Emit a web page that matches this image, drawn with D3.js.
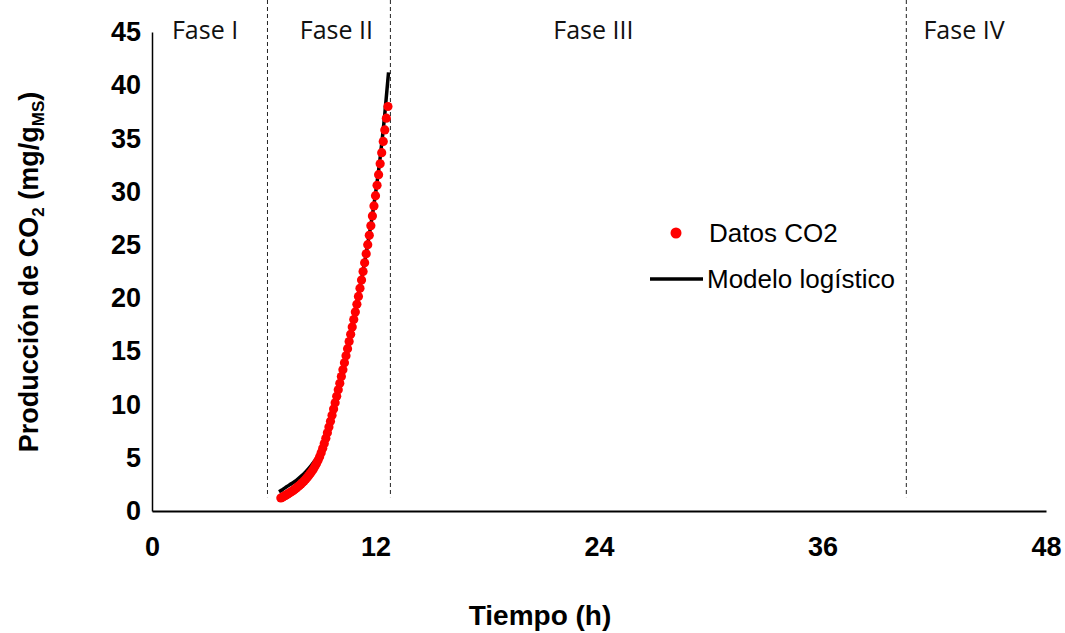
<!DOCTYPE html>
<html>
<head>
<meta charset="utf-8">
<script src="https://cdn.jsdelivr.net/npm/d3@7"></script>
<style>
  body { margin: 0; background: #fff; }
  svg { display: block; }
</style>
</head>
<body>
<div id="chart"></div>
<script>
// ===== data =====
// measured CO2, every 5 min (time in minutes)
var dataMin = [415,420,425,430,435,440,445,450,455,460,465,470,475,480,485,490,495,500,505,510,
    515,520,525,530,535,540,545,550,555,560,565,570,575,580,585,590,595,600,605,610,
    615,620,625,630,635,640,645,650,655,660,665,670,675,680,685,690,695,700,705,710,
    715,720,725,730,735,740,745,750,755,760];
var dataCO2 = [1.22,1.30,1.38,1.46,1.55,1.64,1.73,1.83,1.93,2.04,2.15,2.27,2.40,2.53,2.67,2.82,2.98,3.15,3.33,3.52,
    3.73,3.95,4.20,4.47,4.77,5.10,5.48,5.90,6.35,6.84,7.35,7.88,8.43,9.00,9.58,10.17,10.77,11.38,12.00,12.63,
    13.27,13.92,14.58,15.25,15.92,16.60,17.29,17.99,18.70,19.42,20.16,20.92,21.70,22.50,23.32,24.16,25.02,25.90,26.80,27.72,
    28.66,29.62,30.60,31.60,32.62,33.66,34.72,35.80,36.90,38.00];

// logistic model curve
var modelMin = [409,420,435,450,465,480,495,510,525,540,555,570,585,600,615,630,645,660,675,690,705,720,735,750,762];
var modelCO2 = [1.81,2.00,2.30,2.58,2.88,3.25,3.68,4.18,4.75,5.40,6.30,7.60,9.20,11.00,12.95,15.00,17.15,19.40,21.75,24.20,26.85,29.80,33.20,37.30,41.20];

// phase boundaries (h) and labels
var phaseBounds = [6.2, 12.8, 40.5];
var phaseNames = ["Fase I", "Fase II", "Fase III", "Fase IV"];
var phaseCenters = [2.85, 9.9, 23.7, 43.6];

var xTicks = [0, 12, 24, 36, 48];
var yTicks = [0, 5, 10, 15, 20, 25, 30, 35, 40, 45];

var W = 1065, H = 633;
var svg = d3.select("#chart")
    .append("svg")
    .attr("width", W)
    .attr("height", H)

var x = d3.scaleLinear().domain([0, 48]).range([152, 1046])
var y = d3.scaleLinear().domain([0, 45]).range([511, 32])

var sans = "Liberation Sans, Arial, sans-serif"

// dashed phase lines
svg.selectAll(".phase")
    .data(phaseBounds)
    .enter().append("line")
    .attr("x1", function(d){return x(d)})
    .attr("x2", function(d){return x(d)})
    .attr("y1", 0)
    .attr("y2", y(1.3))
    .attr("stroke", "#222")
    .attr("stroke-width", 1)
    .attr("stroke-dasharray", "4,3")

svg.selectAll(".phaseLabel")
    .data(phaseNames)
    .enter().append("text")
    .text(function(d){return d})
    .attr("x", function(d,i){return x(phaseCenters[i])})
    .attr("y", 39)
    .attr("text-anchor", "middle")
    .attr("font-family", "Open Sans, sans-serif")
    .attr("font-size", "25px")
    .attr("fill", "#111")

// axes
var xAxis = svg.append("g")
    .attr("transform", "translate(0," + y(0) + ")")
    .call(d3.axisBottom(x).tickValues(xTicks).tickSize(0).tickPadding(26))
xAxis.select(".domain").attr("stroke", "#000").attr("stroke-width", 2)
xAxis.selectAll("text")
    .attr("font-family", sans).attr("font-size", "27px").attr("font-weight", "bold").attr("fill", "#000")

var yAxis = svg.append("g")
    .attr("transform", "translate(" + x(0) + ",0)")
    .call(d3.axisLeft(y).tickValues(yTicks).tickSize(0).tickPadding(11))
yAxis.select(".domain").attr("stroke", "#000").attr("stroke-width", 1.5)
yAxis.selectAll("text")
    .attr("font-family", sans).attr("font-size", "27px").attr("font-weight", "bold").attr("fill", "#000")

// axis titles
svg.append("text")
    .text("Tiempo (h)")
    .attr("x", 540)
    .attr("y", 625)
    .attr("text-anchor", "middle")
    .attr("font-family", sans)
    .attr("font-size", "28px")
    .attr("font-weight", "bold")

var yt = svg.append("text")
    .attr("transform", "translate(38,272) rotate(-90)")
    .attr("text-anchor", "middle")
    .attr("font-family", sans)
    .attr("font-size", "27px")
    .attr("font-weight", "bold")
yt.append("tspan").text("Producción de CO")
yt.append("tspan").text("2").attr("font-size", "17px").attr("dy", 6)
yt.append("tspan").text(" (mg/g").attr("dy", -6)
yt.append("tspan").text("MS").attr("font-size", "17px").attr("dy", 6)
yt.append("tspan").text(")").attr("dy", -6)

// model line
var line = d3.line()
    .x(function(d,i){return x(modelMin[i] / 60)})
    .y(function(d){return y(d)})
    .curve(d3.curveMonotoneX)

svg.append("path")
    .datum(modelCO2)
    .attr("d", line)
    .attr("fill", "none")
    .attr("stroke", "#000")
    .attr("stroke-width", 3.5)

// data points
svg.selectAll(".dot")
    .data(dataCO2)
    .enter().append("circle")
    .attr("cx", function(d,i){return x(dataMin[i] / 60)})
    .attr("cy", function(d){return y(d)})
    .attr("r", 4.6)
    .attr("fill", "#ff0000")

// legend
svg.append("circle")
    .attr("cx", 676).attr("cy", 233).attr("r", 5.5).attr("fill", "#ff0000")
svg.append("text")
    .text("Datos CO2")
    .attr("x", 709).attr("y", 242)
    .attr("font-family", sans).attr("font-size", "26px")
svg.append("line")
    .attr("x1", 650).attr("x2", 703).attr("y1", 279).attr("y2", 279)
    .attr("stroke", "#000").attr("stroke-width", 3.5)
svg.append("text")
    .text("Modelo logístico")
    .attr("x", 707).attr("y", 288)
    .attr("font-family", sans).attr("font-size", "26px")
</script>
</body>
</html>
